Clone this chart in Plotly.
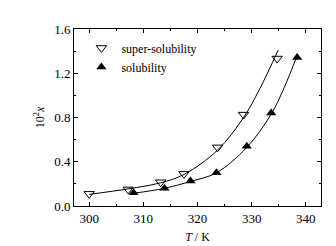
import plotly.graph_objects as go

# Measured data
super_T = [300.0, 307.2, 313.2, 317.5, 323.7, 328.5, 334.7]
super_x = [0.11, 0.15, 0.215, 0.29, 0.53, 0.826, 1.333]
sol_T = [308.2, 313.9, 318.7, 323.5, 329.1, 333.6, 338.4]
sol_x = [0.12, 0.16, 0.226, 0.30, 0.54, 0.84, 1.342]

# Fitted curves
super_fit_T = [300.0, 307.2, 313.2, 317.5, 323.7, 328.5, 331.5, 334.9]
super_fit_x = [0.105, 0.155, 0.21, 0.285, 0.505, 0.80, 1.06, 1.41]
sol_fit_T = [308.2, 313.9, 318.7, 323.5, 329.1, 333.6, 336.0, 338.4]
sol_fit_x = [0.115, 0.16, 0.222, 0.30, 0.53, 0.83, 1.07, 1.36]

x_ticks = [300, 310, 320, 330, 340]
y_ticks = [0.0, 0.4, 0.8, 1.2, 1.6]

font = "Liberation Serif, Times New Roman, serif"

fig = go.Figure()
fig.add_trace(go.Scatter(x=super_fit_T, y=super_fit_x, mode="lines", line=dict(color="black", width=1, shape="spline"), showlegend=False))
fig.add_trace(go.Scatter(x=sol_fit_T, y=sol_fit_x, mode="lines", line=dict(color="black", width=1, shape="spline"), showlegend=False))
fig.add_trace(go.Scatter(x=super_T, y=super_x, mode="markers", name="super-solubility",
                         marker=dict(symbol="triangle-down-open", size=9, color="black", line=dict(width=1, color="black"))))
fig.add_trace(go.Scatter(x=sol_T, y=sol_x, mode="markers", name="solubility",
                         marker=dict(symbol="triangle-up", size=9, color="black")))

axis_common = dict(showline=True, linecolor="black", linewidth=1, mirror="ticks", ticks="inside",
                   ticklen=4, tickcolor="black", showgrid=False, zeroline=False,
                   tickfont=dict(family=font, size=13, color="black"))
fig.update_xaxes(range=[297.2, 342.8], tickvals=x_ticks, ticktext=[str(v) for v in x_ticks],
                 minor=dict(ticks="inside", ticklen=2, dtick=5, tick0=300, tickcolor="black"),
                 title=dict(text="<i>T</i> / K", font=dict(family=font, size=12, color="black"), standoff=8),
                 **axis_common)
fig.update_yaxes(range=[0, 1.6], tickvals=y_ticks, ticktext=[f"{v:.1f}" for v in y_ticks],
                 minor=dict(ticks="inside", ticklen=2, dtick=0.2, tick0=0, tickcolor="black"),
                 title=dict(text="10<sup>2</sup><i>x</i>", font=dict(family=font, size=12, color="black"), standoff=6),
                 **axis_common)
fig.update_layout(width=336, height=246, margin=dict(l=66, r=23, t=21, b=41),
                  plot_bgcolor="white", paper_bgcolor="white",
                  legend=dict(x=0.03, y=0.975, xanchor="left", yanchor="top", bgcolor="rgba(0,0,0,0)",
                              font=dict(family=font, size=12, color="black"), itemwidth=30, tracegroupgap=0),
                  font=dict(family=font, color="black"))
fig.write_html("out.html")
